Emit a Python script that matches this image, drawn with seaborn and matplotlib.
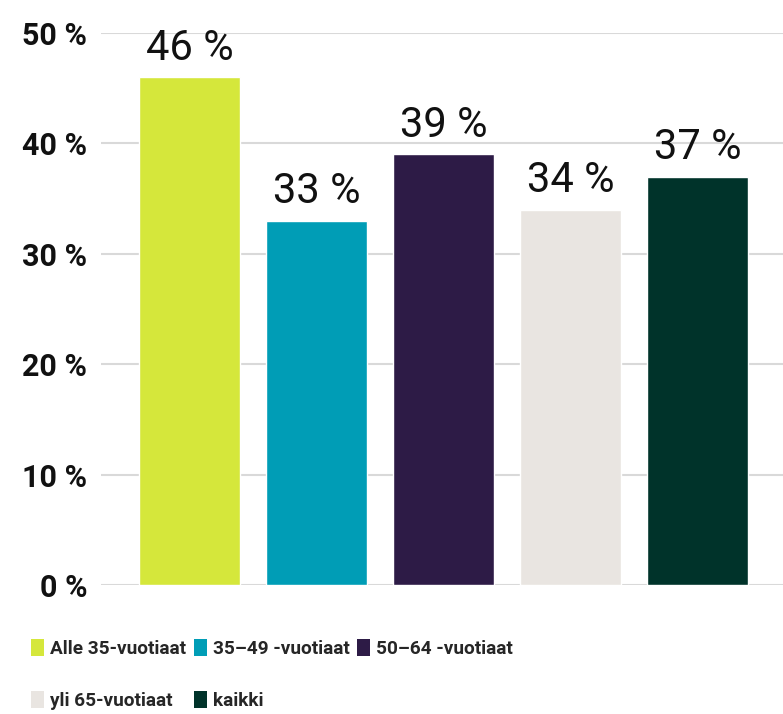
import matplotlib
matplotlib.use("Agg")
import matplotlib.pyplot as plt
from matplotlib.patches import Patch
import seaborn as sns
import pandas as pd

categories = ["Alle 35-vuotiaat", "35–49 -vuotiaat", "50–64 -vuotiaat", "yli 65-vuotiaat", "kaikki"]
values = [46, 33, 39, 34, 37]
colors = ["#D5E73B", "#009DB6", "#2D1B46", "#E9E5E1", "#00332A"]
yticks = [0, 10, 20, 30, 40, 50]
ytick_labels = ["0 %", "10 %", "20 %", "30 %", "40 %", "50 %"]

sns.set_theme(style="white")
plt.rcParams["font.family"] = ["Roboto", "DejaVu Sans"]

legend_prop = {"family": ["Roboto", "DejaVu Sans"], "weight": "bold", "size": 13.7}

df = pd.DataFrame({"cat": categories, "val": values})

fig = plt.figure(figsize=(7.83, 7.14), dpi=100)
ax = fig.add_axes([101 / 783, 129 / 714, 682 / 783, 552 / 714])

sns.barplot(data=df, x="cat", y="val", hue="cat", palette=colors, order=categories,
            hue_order=categories, width=0.795, dodge=False, legend=False, ax=ax, saturation=1)

ax.set_ylim(0, 50)
ax.set_xlim(-0.697, 4.673)
ax.set_yticks(yticks)
ax.set_yticklabels(ytick_labels, fontsize=22, fontweight="bold", color="#111111")
ax.tick_params(axis="y", length=0, pad=10)
ax.set_xticks([])
ax.set_xlabel("")
ax.set_ylabel("")
ax.yaxis.grid(True, color="#D9D9D9", linewidth=1.5)
ax.set_axisbelow(True)
for s in ax.spines.values():
    s.set_visible(False)

for cont in ax.containers:
    ax.bar_label(cont, labels=[f"{v:.0f} %" for v in cont.datavalues], padding=6,
                 fontsize=30, color="#111111")

handles = [Patch(facecolor=c, edgecolor="none") for c in colors]
order = [0, 3, 1, 4, 2]
fig.legend([handles[i] for i in order], [categories[i] for i in order],
           ncol=3, loc="upper left", bbox_to_anchor=(31 / 783, 1 - 639 / 714),
           frameon=False, prop=legend_prop,
           handlelength=0.7, handleheight=1.0, handletextpad=0.3, columnspacing=0.4,
           labelspacing=1.75, borderaxespad=0, borderpad=0)

fig.savefig("out.png", dpi=100)
